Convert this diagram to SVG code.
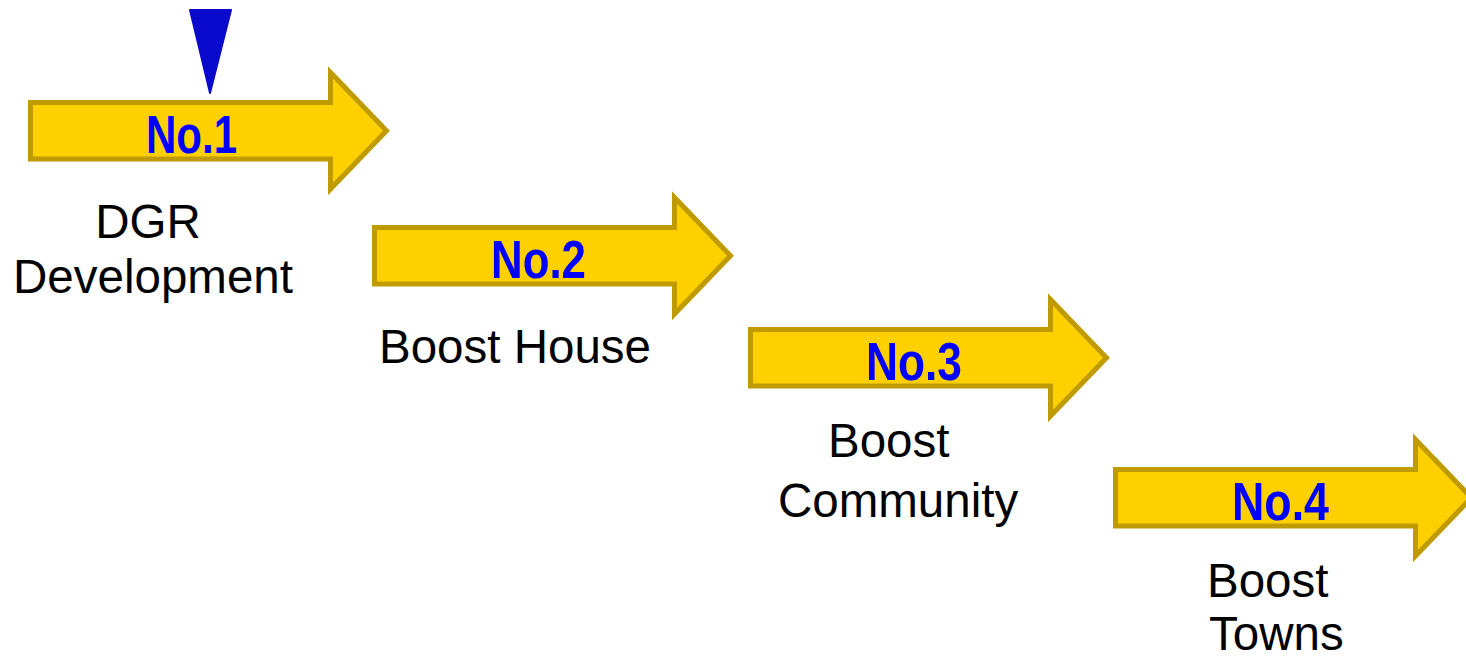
<svg xmlns="http://www.w3.org/2000/svg" width="1466" height="658" viewBox="0 0 1466 658">
<style>
.arrow{fill:#FFD000;stroke:#BF9B00;stroke-width:5;stroke-linejoin:miter}
.num{font-family:"Liberation Sans",Arial,sans-serif;font-weight:bold;font-size:53px;fill:#0000FF}
.lbl{font-family:"Liberation Sans",Arial,sans-serif;font-size:47.5px;fill:#000}
</style>
<defs>
<path id="arr" d="M0,0 H300 V-30 L356,28.25 L300,86.5 V56.5 H0 Z"/>
</defs>
<g id="marker">
<polygon points="190,10 231,10 210,93" fill="#0A0ACD" stroke="#0A0ACD" stroke-width="2" stroke-linejoin="round"/>
</g>
<g id="step1">
<use href="#arr" class="arrow" transform="translate(30.5,102.5)"/>
<text class="num" x="146" y="153" textLength="91" lengthAdjust="spacingAndGlyphs">No.1</text>
<text class="lbl" x="148" y="238" text-anchor="middle">DGR</text>
<text class="lbl" x="153" y="293" text-anchor="middle">Development</text>
</g>
<g id="step2">
<use href="#arr" class="arrow" transform="translate(374.5,227.5)"/>
<text class="num" x="491" y="278" textLength="95" lengthAdjust="spacingAndGlyphs">No.2</text>
<text class="lbl" x="379" y="363">Boost House</text>
</g>
<g id="step3">
<use href="#arr" class="arrow" transform="translate(750.5,329.5)"/>
<text class="num" x="866" y="380" textLength="96" lengthAdjust="spacingAndGlyphs">No.3</text>
<text class="lbl" x="828" y="457">Boost</text>
<text class="lbl" x="778" y="517">Community</text>
</g>
<g id="step4">
<use href="#arr" class="arrow" transform="translate(1115.5,469.5)"/>
<text class="num" x="1232" y="520" textLength="97" lengthAdjust="spacingAndGlyphs">No.4</text>
<text class="lbl" x="1207" y="597">Boost</text>
<text class="lbl" x="1209" y="650">Towns</text>
</g>
<g id="connectors"></g>
</svg>
